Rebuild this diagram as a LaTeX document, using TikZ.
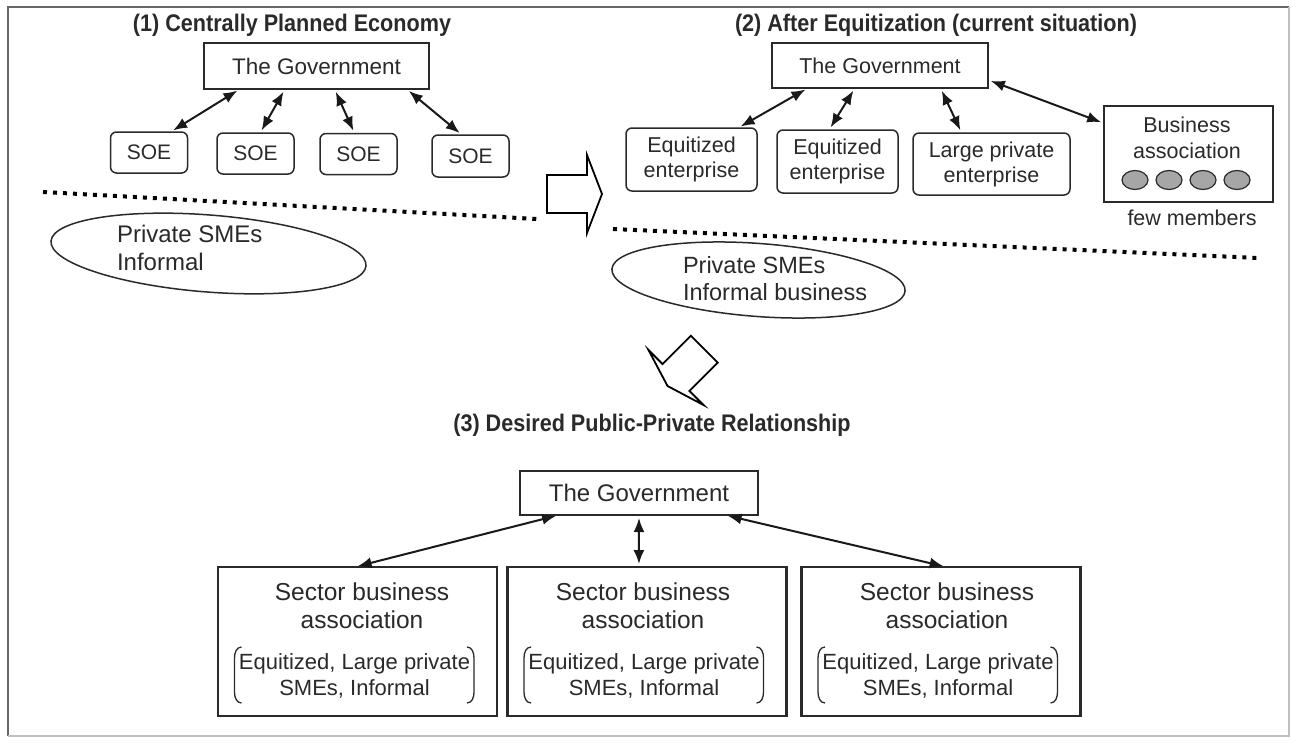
\documentclass[tikz,border=0pt]{standalone}
\usepackage{fontspec}
\setmainfont{Liberation Sans}
\newfontfamily\headfont[FakeStretch=0.9]{Liberation Sans}
\usetikzlibrary{arrows.meta,shapes.geometric,calc}
\definecolor{ink}{HTML}{2A2A2A}

\begin{document}
\begin{tikzpicture}[x=1pt,y=-1pt,
  every node/.style={inner sep=0pt, outer sep=0pt, text=ink},
  plainbox/.style={draw=ink, line width=2.2pt, rectangle},
  roundbox/.style={draw=ink, line width=1.5pt, rectangle, rounded corners=6pt},
  secbox/.style={draw=ink, line width=2.4pt, rectangle},
  tip/.tip={Latex[length=14pt,width=11pt]},
  link/.style={tip-tip, line width=2pt, draw=black!90, shorten <=3pt, shorten >=3pt},
  dots/.style={line width=4pt, dash pattern=on 4pt off 6pt, black},
  blockarrow/.style={draw=black, line width=1.8pt, fill=white, line join=miter},
  title/.style={anchor=base, font=\headfont\bfseries\fontsize{24}{28}\selectfont},
  lbl/.style={anchor=base, font=\fontsize{21.5}{25}\selectfont},
  lblw/.style={anchor=base west, font=\fontsize{24}{28}\selectfont},
  sechead/.style={anchor=base, font=\fontsize{24.5}{28}\selectfont},
  secsub/.style={anchor=base, font=\fontsize{22}{26}\selectfont},
  paren/.style={draw=ink, line width=1.3pt},
  member/.style={ellipse, draw=ink, line width=1.2pt, fill=black!35,
                 minimum width=26pt, minimum height=19pt},
  sme/.style={ellipse, draw=ink, line width=1.5pt}]

\fill[white] (0,0) rectangle (1297,749);
\useasboundingbox (0,0) rectangle (1297,749);

% outer frame
\draw[black!60, line width=1.5pt] (8,736) -- (8,7) -- (1289,7);
\draw[black!25, line width=1.5pt] (1289,7) -- (1289,736) -- (8,736);

% ---------- (1) Centrally planned economy ----------
\node[title] (t1) at (292,32) {(1) Centrally Planned Economy};
\node[plainbox, minimum width=225pt, minimum height=46pt,
      font=\fontsize{22.5}{26}\selectfont] (gov1) at (316.5,66) {The Government};
\node[roundbox, minimum width=77pt, minimum height=41pt,
      font=\fontsize{21}{25}\selectfont] (soe1) at (149,152.5) {SOE};
\node[roundbox, minimum width=77pt, minimum height=41pt,
      font=\fontsize{21}{25}\selectfont] (soe2) at (255.5,153.5) {SOE};
\node[roundbox, minimum width=77pt, minimum height=41pt,
      font=\fontsize{21}{25}\selectfont] (soe3) at (358.5,154) {SOE};
\node[roundbox, minimum width=77pt, minimum height=42pt,
      font=\fontsize{21}{25}\selectfont] (soe4) at (470.5,156) {SOE};

\draw[link] ($(gov1.south west)!0.16!(gov1.south east)$) -- ($(soe1.north west)!0.78!(soe1.north east)$);
\draw[link] ($(gov1.south west)!0.36!(gov1.south east)$) -- ($(soe2.north west)!0.56!(soe2.north east)$);
\draw[link] ($(gov1.south west)!0.58!(gov1.south east)$) -- ($(soe3.north west)!0.45!(soe3.north east)$);
\draw[link] ($(gov1.south west)!0.90!(gov1.south east)$) -- ($(soe4.north west)!0.39!(soe4.north east)$);

\coordinate (d1a) at (43,192);
\coordinate (d1b) at (537,219);
\draw[dots] (d1a) -- (d1b);

\node[sme, minimum width=316pt, minimum height=77pt, rotate=-4.5] (pe1) at (208.5,253.5) {};
\node[lblw] (pe1a) at (117,242) {Private SMEs};
\node[lblw] (pe1b) at (117,270) {Informal};

% block arrow pointing right
\begin{scope}[shift={(587,194)}]
  \draw[blockarrow] (-40,-19) -- (0,-19) -- (0,-39) -- (15,0) -- (0,39) -- (0,19) -- (-40,19) -- cycle;
\end{scope}

% ---------- (2) After equitization ----------
\node[title] (t2) at (936,32) {(2) After Equitization (current situation)};
\node[plainbox, minimum width=216pt, minimum height=45pt,
      font=\fontsize{21.5}{25}\selectfont] (gov2) at (880,65.5) {The Government};
\node[roundbox, minimum width=131pt, minimum height=63pt, align=center,
      font=\fontsize{21.5}{25}\selectfont] (e1) at (691.5,159.5) {Equitized\\enterprise};
\node[roundbox, minimum width=121pt, minimum height=63pt, align=center,
      font=\fontsize{21.5}{25}\selectfont] (e2) at (837.5,161.5) {Equitized\\enterprise};
\node[roundbox, minimum width=157pt, minimum height=62pt, align=center,
      font=\fontsize{21.5}{25}\selectfont] (e3) at (991.5,164) {Large private\\enterprise};
\node[plainbox, minimum width=169pt, minimum height=96pt] (ba) at (1188.5,154) {};
\node[lbl] (ba1) at (1187,132) {Business};
\node[lbl] (ba2) at (1187,158) {association};
\foreach \i/\cx in {1/1135,2/1169,3/1203,4/1237}
  \node[member] (m\i) at (\cx,180) {};
\node[lbl] (few) at (1192,225) {few members};

\draw[link] ($(gov2.south west)!0.167!(gov2.south east)$) -- ($(e1.north west)!0.855!(e1.north east)$);
\draw[link] ($(gov2.south west)!0.384!(gov2.south east)$) -- ($(e2.north west)!0.43!(e2.north east)$);
\draw[link] ($(gov2.south west)!0.78!(gov2.south east)$) -- ($(e3.north west)!0.31!(e3.north east)$);
\draw[link] ($(gov2.north east)!0.82!(gov2.south east)$) -- ($(ba.north west)!0.18!(ba.south west)$);

\coordinate (d2a) at (613,229);
\coordinate (d2b) at (1258,258);
\draw[dots] (d2a) -- (d2b);

\node[sme, minimum width=294pt, minimum height=73pt, rotate=-4.3] (pe2) at (758.5,280) {};
\node[lblw, font=\fontsize{23.5}{27}\selectfont] (pe2a) at (683,273) {Private SMEs};
\node[lblw, font=\fontsize{23.5}{27}\selectfont] (pe2b) at (683,300) {Informal business};

% block arrow pointing down-left
\begin{scope}[shift={(676,377.5)}, rotate=225]
  \draw[blockarrow] (-40,-19) -- (0,-19) -- (0,-39) -- (12,0) -- (0,39) -- (0,19) -- (-40,19) -- cycle;
\end{scope}

% ---------- (3) Desired relationship ----------
\node[title] (t3) at (652,431) {(3) Desired Public-Private Relationship};
\node[plainbox, minimum width=238pt, minimum height=44pt,
      font=\fontsize{24}{28}\selectfont] (gov3) at (639,493) {The Government};

\foreach \i/\cx/\hx in {1/357.5/362, 2/647/643, 3/941/947}{
  \node[secbox, minimum width=279pt, minimum height=149pt] (s\i) at (\cx,641.5) {};
  \node[sechead] (s\i-a) at (\hx,600) {Sector business};
  \node[sechead] (s\i-b) at (\hx,628) {association};
  \node[secsub] (s\i-c) at (\cx-3,669) {Equitized, Large private};
  \node[secsub] (s\i-d) at (\cx-3,695) {SMEs, Informal};
  \draw[paren] (\cx-116,647) to[out=180,in=90] (\cx-123,658) -- (\cx-123,692)
               to[out=-90,in=180] (\cx-116,703);
  \draw[paren] (\cx+109.5,647) to[out=0,in=90] (\cx+116.5,658) -- (\cx+116.5,692)
               to[out=-90,in=0] (\cx+109.5,703);
}

\draw[link] ($(gov3.south west)!0.164!(gov3.south east)$) -- ($(s1.north west)!0.49!(s1.north east)$);
\draw[link] (gov3.south) -- ($(s2.north west)!0.471!(s2.north east)$);
\draw[link] ($(gov3.south west)!0.86!(gov3.south east)$) -- ($(s3.north west)!0.52!(s3.north east)$);

\end{tikzpicture}
\end{document}
